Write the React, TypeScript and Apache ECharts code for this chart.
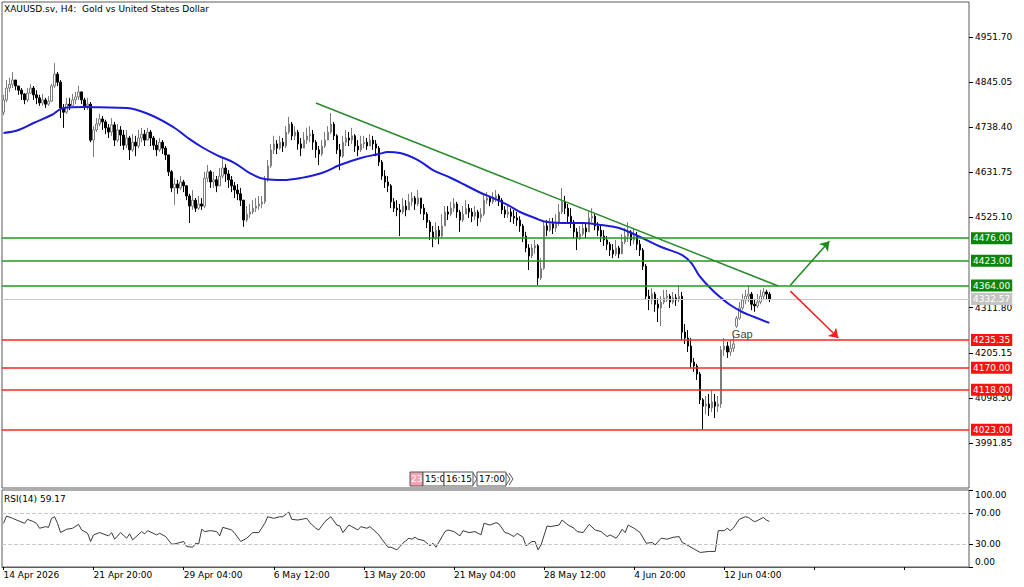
import React, { useEffect, useRef } from "react";
import * as echarts from "echarts";

const FONT = "DejaVu Sans";
const N_SLOTS = 322;
const LABEL_STEP = 30;

const dateLabels = ["14 Apr 2026", "21 Apr 20:00", "29 Apr 04:00", "6 May 12:00", "13 May 20:00", "21 May 04:00", "28 May 12:00", "4 Jun 20:00", "12 Jun 04:00"];

const firstOpen = 4774;
const gapOpens: Record<number, number> = { 244: 4268 };

const closes = [
  4803, 4831, 4840, 4850, 4836, 4826, 4817, 4803, 4819, 4831,
  4815, 4808, 4796, 4803, 4793, 4800, 4836, 4864, 4845, 4784,
  4774, 4793, 4789, 4803, 4810, 4822, 4803, 4789, 4793, 4708,
  4732, 4746, 4758, 4751, 4737, 4727, 4744, 4708, 4732, 4720,
  4696, 4713, 4685, 4703, 4694, 4713, 4722, 4708, 4727, 4713,
  4696, 4685, 4703, 4689, 4673, 4633, 4595, 4604, 4595, 4609,
  4600, 4576, 4552, 4566, 4547, 4557, 4552, 4618, 4633, 4609,
  4614, 4600, 4623, 4642, 4628, 4614, 4600, 4590, 4581, 4566,
  4519, 4533, 4538, 4547, 4552, 4557, 4562, 4614, 4647, 4685,
  4699, 4689, 4703, 4694, 4727, 4746, 4718, 4727, 4699, 4689,
  4708, 4718, 4722, 4703, 4685, 4675, 4694, 4708, 4727, 4746,
  4718, 4685, 4670, 4703, 4713, 4708, 4718, 4694, 4685, 4699,
  4703, 4694, 4708, 4699, 4689, 4656, 4623, 4609, 4600, 4562,
  4547, 4543, 4538, 4552, 4543, 4562, 4571, 4557, 4571, 4547,
  4533, 4514, 4491, 4476, 4495, 4481, 4505, 4538, 4533, 4547,
  4557, 4538, 4519, 4533, 4547, 4538, 4528, 4538, 4524, 4533,
  4566, 4571, 4562, 4571, 4576, 4566, 4543, 4533, 4538, 4528,
  4524, 4519, 4505, 4481, 4453, 4434, 4453, 4458, 4382, 4405,
  4505, 4495, 4510, 4500, 4514, 4538, 4562, 4547, 4528, 4514,
  4491, 4476, 4486, 4500, 4491, 4524, 4528, 4505, 4495, 4481,
  4472, 4462, 4448, 4439, 4453, 4439, 4467, 4481, 4491, 4472,
  4481, 4462, 4448, 4410, 4339, 4330, 4344, 4320, 4311, 4325,
  4335, 4339, 4325, 4335, 4330, 4339, 4254, 4240, 4221, 4183,
  4174, 4155, 4094, 4079, 4084, 4075, 4089, 4079, 4084, 4212,
  4221, 4207, 4216, 4226, 4287, 4311, 4330, 4339, 4344, 4320, 4316, 4325, 4339, 4349, 4344, 4332.57,
];

const highs = [
  4815, 4850, 4855, 4869, 4850, 4836, 4831, 4819, 4831, 4840,
  4836, 4826, 4815, 4817, 4808, 4812, 4841, 4890, 4869, 4850,
  4793, 4808, 4808, 4817, 4822, 4836, 4822, 4808, 4808, 4798,
  4741, 4760, 4770, 4765, 4756, 4746, 4760, 4751, 4746, 4741,
  4732, 4732, 4718, 4722, 4718, 4732, 4737, 4732, 4737, 4732,
  4718, 4708, 4713, 4708, 4694, 4673, 4637, 4618, 4614, 4623,
  4614, 4600, 4581, 4590, 4571, 4576, 4571, 4633, 4649, 4637,
  4633, 4623, 4642, 4666, 4651, 4637, 4623, 4609, 4604, 4595,
  4566, 4552, 4557, 4566, 4571, 4576, 4576, 4623, 4661, 4699,
  4718, 4708, 4718, 4713, 4741, 4763, 4751, 4741, 4732, 4713,
  4727, 4737, 4741, 4732, 4708, 4694, 4708, 4727, 4741, 4772,
  4751, 4722, 4699, 4718, 4732, 4727, 4737, 4722, 4708, 4718,
  4718, 4713, 4722, 4718, 4708, 4694, 4661, 4637, 4623, 4604,
  4571, 4566, 4557, 4571, 4566, 4581, 4585, 4576, 4590, 4571,
  4557, 4538, 4519, 4505, 4514, 4505, 4533, 4552, 4552, 4562,
  4571, 4562, 4543, 4552, 4566, 4557, 4547, 4552, 4543, 4547,
  4581, 4585, 4576, 4585, 4590, 4581, 4571, 4552, 4552, 4547,
  4543, 4538, 4528, 4510, 4491, 4462, 4462, 4472, 4462, 4429,
  4514, 4519, 4524, 4524, 4533, 4557, 4595, 4576, 4557, 4547,
  4519, 4500, 4505, 4514, 4510, 4538, 4547, 4533, 4514, 4505,
  4495, 4481, 4467, 4462, 4472, 4458, 4486, 4500, 4514, 4495,
  4500, 4491, 4472, 4453, 4415, 4354, 4358, 4349, 4334, 4339,
  4354, 4354, 4344, 4349, 4344, 4365, 4349, 4273, 4259, 4240,
  4193, 4179, 4160, 4098, 4103, 4108, 4117, 4108, 4103, 4221,
  4240, 4231, 4235, 4245, 4292, 4325, 4344, 4354, 4365, 4349, 4330, 4344, 4354, 4358, 4354, 4349,
];

const lows = [
  4767, 4798, 4822, 4831, 4826, 4815, 4803, 4793, 4798, 4817,
  4803, 4793, 4789, 4789, 4784, 4789, 4798, 4831, 4836, 4760,
  4737, 4770, 4779, 4789, 4793, 4803, 4793, 4779, 4779, 4703,
  4668, 4727, 4741, 4732, 4722, 4713, 4718, 4694, 4703, 4694,
  4685, 4689, 4661, 4680, 4670, 4689, 4703, 4694, 4708, 4694,
  4685, 4670, 4680, 4675, 4661, 4623, 4585, 4555, 4581, 4590,
  4585, 4566, 4512, 4543, 4538, 4543, 4543, 4547, 4609, 4595,
  4595, 4585, 4600, 4618, 4609, 4595, 4585, 4571, 4566, 4552,
  4503, 4514, 4524, 4533, 4538, 4543, 4547, 4557, 4609, 4642,
  4675, 4675, 4685, 4680, 4689, 4722, 4708, 4708, 4685, 4670,
  4689, 4699, 4703, 4685, 4666, 4649, 4670, 4689, 4708, 4722,
  4708, 4675, 4637, 4666, 4694, 4694, 4699, 4680, 4670, 4680,
  4689, 4685, 4694, 4685, 4670, 4647, 4614, 4595, 4585, 4547,
  4538, 4528, 4481, 4533, 4528, 4543, 4552, 4543, 4552, 4533,
  4519, 4500, 4472, 4455, 4472, 4462, 4476, 4514, 4519, 4528,
  4538, 4524, 4491, 4514, 4533, 4524, 4514, 4519, 4505, 4514,
  4528, 4557, 4552, 4557, 4562, 4552, 4533, 4524, 4524, 4514,
  4510, 4505, 4491, 4467, 4443, 4401, 4429, 4439, 4365, 4377,
  4401, 4481, 4491, 4486, 4491, 4505, 4533, 4533, 4514, 4500,
  4476, 4448, 4472, 4481, 4476, 4491, 4514, 4495, 4481, 4467,
  4458, 4448, 4434, 4429, 4434, 4429, 4443, 4462, 4467, 4458,
  4462, 4448, 4434, 4401, 4330, 4306, 4320, 4302, 4278, 4268,
  4320, 4325, 4311, 4320, 4316, 4325, 4235, 4226, 4207, 4169,
  4160, 4141, 4084, 4024, 4060, 4056, 4065, 4051, 4065, 4075,
  4198, 4193, 4198, 4207, 4264, 4283, 4306, 4320, 4325, 4306, 4302, 4311, 4320, 4330, 4330, 4325,
];

const maIdx = [0, 5, 10, 16, 20, 27, 32, 41, 49, 57, 61, 66, 71, 77, 82, 87, 93, 99, 106, 112, 119, 125, 128, 132, 138, 143, 149, 155, 159, 163, 168, 172, 177, 181, 188, 193, 199, 205, 212, 219, 226, 229, 232, 236, 239, 242, 246, 250, 255];
const maVal = [4724.8, 4731.9, 4748.4, 4767.3, 4783.9, 4786.2, 4785.5, 4783.9, 4767.3, 4736.6, 4715.3, 4691.7, 4672.7, 4653.8, 4630.2, 4616.0, 4613.6, 4618.4, 4630.2, 4649.1, 4665.7, 4675.1, 4679.8, 4677.5, 4660.9, 4637.3, 4618.4, 4597.1, 4582.9, 4571.1, 4554.5, 4538.0, 4523.8, 4514.3, 4512.0, 4512.0, 4507.2, 4500.2, 4478.9, 4455.2, 4436.3, 4417.5, 4384.4, 4353.6, 4334.7, 4318.1, 4301.6, 4289.7, 4276.0];

const trendIdx = [104, 258];
const trendVal = [4795.7, 4363.0];

const greenLevels = [4476, 4423, 4364];
const redLevels = [4235.35, 4170, 4118, 4023];
const lastPrice = 4332.57;

const upArrowIdx = [262, 275];
const upArrowVal = [4365, 4469];
const downArrowIdx = [262, 278];
const downArrowVal = [4351, 4240];

const gapIdx = 246;
const gapPrice = 4250;
const gapText = "Gap";

const yTicks = [3991.85, 4098.5, 4205.15, 4311.8, 4525.1, 4631.75, 4738.4, 4845.05, 4951.7];
const yMin = 3885.5;
const yMax = 5034.5;

const rsiIdx = [0, 1, 3, 7, 8, 10, 11, 12, 14, 15, 16, 17, 18, 19, 21, 23, 25, 26, 28, 29, 30, 32, 35, 36, 37, 39, 41, 42, 43, 46, 47, 48, 51, 52, 54, 56, 57, 60, 61, 63, 64, 65, 66, 67, 69, 71, 72, 73, 76, 77, 79, 81, 83, 85, 87, 88, 90, 92, 93, 95, 96, 98, 101, 102, 104, 105, 107, 109, 111, 112, 113, 115, 116, 118, 119, 121, 122, 123, 125, 126, 128, 129, 131, 133, 135, 136, 137, 138, 140, 142, 143, 144, 147, 148, 150, 152, 153, 155, 157, 159, 160, 162, 164, 165, 167, 168, 170, 171, 173, 174, 176, 177, 178, 179, 181, 182, 185, 186, 188, 190, 191, 193, 195, 197, 199, 201, 202, 204, 205, 206, 207, 208, 210, 212, 214, 216, 217, 219, 221, 223, 225, 226, 227, 230, 232, 235, 237, 238, 240, 241, 242, 243, 245, 247, 248, 250, 251, 253, 254, 255];
const rsiVal = [56.7, 66.2, 63.2, 56.7, 61.9, 58.9, 56.7, 50.3, 52.4, 51.5, 63.2, 65.3, 56.7, 44.7, 49, 50.3, 55.4, 48.1, 43.8, 33.1, 41.7, 44.7, 40.4, 44.7, 36.1, 44.7, 37.4, 43, 35.2, 46, 43, 47.2, 41.7, 43.8, 39.5, 29.6, 30, 33.1, 26.6, 25.7, 30.9, 30, 49, 46, 47.2, 46, 40.4, 51.5, 48.1, 43.8, 33.1, 37.4, 44.7, 44.7, 56.7, 65.3, 63.2, 65.3, 65.3, 71.3, 61.9, 61, 63.2, 57.6, 50.3, 48.1, 58.9, 65.3, 54.5, 53.3, 44.7, 54.5, 52.4, 48.1, 52.4, 50.3, 52.4, 49, 41.7, 36.1, 25.7, 25.7, 22.3, 30.9, 37.4, 36.1, 38.6, 36.1, 34.3, 27.5, 30.9, 25.7, 46, 48.1, 46, 40.4, 47.2, 44.7, 46, 41.7, 56.7, 54.5, 57.6, 55.8, 44.7, 43.8, 39.5, 43.8, 38.6, 27.5, 33.1, 33.1, 22.3, 28.7, 53.3, 52.4, 54.5, 61, 54.5, 50.3, 46, 44.7, 55.4, 48.1, 46, 39.5, 41.7, 37.4, 42.5, 49, 44.7, 54.5, 50.3, 44.7, 30.9, 31.8, 28.7, 37.4, 36.1, 38.6, 39.5, 31.8, 30, 23.2, 18.9, 20.2, 20.2, 47.2, 47.2, 50.3, 47.2, 50.3, 61.9, 65.3, 64.4, 58.9, 60.1, 64.4, 61, 59.17];
const rsiTicks = [0, 30, 70, 100];
const rsiLevels = [30, 70];
const rsiTitle = "RSI(14) 59.17";
const chartTitle = "XAUUSD.sv, H4:  Gold vs United States Dollar";

const GREEN_LINE = "#1f9a1f";
const GREEN_BOX = "#0b860b";
const RED_LINE = "#ff2424";
const RED_BOX = "#ff1010";

function levelItem(v: number, lineColor: string, boxColor: string) {
  return {
    yAxis: v,
    lineStyle: { color: lineColor, width: 1.5, type: "solid" },
    label: {
      show: true,
      position: "end",
      distance: 2,
      formatter: () => v.toFixed(2),
      backgroundColor: boxColor,
      color: "#ffffff",
      padding: [2, 2, 1, 2],
      fontSize: 9,
      fontFamily: FONT,
    },
  };
}

function buildOption() {
  const categories = Array.from({ length: N_SLOTS }, (_, i) => String(i));
  const opens = closes.map((c, i) =>
    gapOpens[i] !== undefined ? gapOpens[i] : i === 0 ? firstOpen : closes[i - 1]
  );
  const candleData = closes.map((c, i) => {
    const o = opens[i];
    return [o, c, Math.min(lows[i], o, c), Math.max(highs[i], o, c)];
  });
  const maData = maIdx.map((i, k) => [i, maVal[k]]);
  const trendData = trendIdx.map((i, k) => [i, trendVal[k]]);
  const rsiData = rsiIdx.map((i, k) => [i, rsiVal[k]]);

  const textStyle = { fontFamily: FONT, fontSize: 9, color: "#000" };

  const levelData: any[] = [
    ...greenLevels.map((v) => levelItem(v, GREEN_LINE, GREEN_BOX)),
    ...redLevels.map((v) => levelItem(v, RED_LINE, RED_BOX)),
    {
      yAxis: lastPrice,
      lineStyle: { color: "#c8c8c8", width: 1, type: "solid" },
      label: {
        show: true,
        position: "end",
        distance: 2,
        formatter: () => lastPrice.toFixed(2),
        backgroundColor: "#c4c4c4",
        color: "#ffffff",
        padding: [2, 2, 1, 2],
        fontSize: 9,
        fontFamily: FONT,
      },
    },
  ];

  const widget: any[] = [
    { type: "rect", shape: { x: 410, y: 472, width: 13, height: 14 }, style: { fill: "#f5a3b3", stroke: "#555", lineWidth: 1 } },
    { type: "text", x: 411, y: 479, style: { text: "23", fill: "#ffffff", font: `9px "${FONT}"`, verticalAlign: "middle" } },
    { type: "rect", shape: { x: 423, y: 472, width: 21, height: 14 }, style: { fill: "#fff", stroke: "#555", lineWidth: 1 } },
    { type: "text", x: 425, y: 479, style: { text: "15:0", fill: "#000", font: `9px "${FONT}"`, verticalAlign: "middle" } },
    { type: "rect", shape: { x: 444, y: 472, width: 29, height: 14 }, style: { fill: "#fff", stroke: "#555", lineWidth: 1 } },
    { type: "text", x: 446, y: 479, style: { text: "16:15", fill: "#000", font: `9px "${FONT}"`, verticalAlign: "middle" } },
    { type: "polyline", shape: { points: [[473, 473], [477, 479], [473, 485]] }, style: { stroke: "#555", fill: null, lineWidth: 1 } },
    { type: "rect", shape: { x: 477, y: 472, width: 29, height: 14 }, style: { fill: "#fff", stroke: "#555", lineWidth: 1 } },
    { type: "text", x: 479, y: 479, style: { text: "17:00", fill: "#000", font: `9px "${FONT}"`, verticalAlign: "middle" } },
    { type: "polyline", shape: { points: [[506, 473], [510, 479], [506, 485]] }, style: { stroke: "#555", fill: null, lineWidth: 1 } },
    { type: "polyline", shape: { points: [[509, 473], [513, 479], [509, 485]] }, style: { stroke: "#555", fill: null, lineWidth: 1 } },
  ];

  return {
    animation: false,
    backgroundColor: "#ffffff",
    textStyle: { fontFamily: FONT },
    grid: [
      { left: 2, top: 2, width: 967, height: 486, show: true, borderColor: "#5a5a5a", borderWidth: 1, backgroundColor: "#fff" },
      { left: 2, top: 490, width: 967, height: 77, show: true, borderColor: "#5a5a5a", borderWidth: 1, backgroundColor: "#fff" },
    ],
    xAxis: [
      {
        type: "category",
        gridIndex: 0,
        data: categories,
        boundaryGap: true,
        axisLine: { show: false },
        axisTick: { show: false },
        axisLabel: { show: false },
        splitLine: { show: false },
      },
      {
        type: "category",
        gridIndex: 1,
        data: categories,
        boundaryGap: true,
        axisLine: { show: true, lineStyle: { color: "#5a5a5a" } },
        axisTick: { show: true, alignWithLabel: true, length: 3, interval: (i: number) => i % LABEL_STEP === 0, lineStyle: { color: "#000" } },
        axisLabel: {
          ...textStyle,
          interval: (i: number) => i % LABEL_STEP === 0,
          formatter: (_v: string, i: number) => dateLabels[i / LABEL_STEP] ?? "",
          align: "left",
          margin: 3,
        },
        splitLine: { show: false },
      },
    ],
    yAxis: [
      {
        type: "value",
        gridIndex: 0,
        position: "right",
        min: yMin,
        max: yMax,
        scale: true,
        splitLine: { show: false },
        axisLine: { show: false },
        axisTick: { show: true, length: 4, customValues: yTicks, lineStyle: { color: "#000" } },
        axisLabel: { ...textStyle, customValues: yTicks, formatter: (v: number) => v.toFixed(2), margin: 6 },
      },
      {
        type: "value",
        gridIndex: 1,
        position: "right",
        min: 0,
        max: 100,
        splitLine: { show: false },
        axisLine: { show: false },
        axisTick: { show: true, length: 4, customValues: rsiTicks, lineStyle: { color: "#000" } },
        axisLabel: {
          ...textStyle,
          customValues: rsiTicks,
          margin: 6,
          formatter: (v: number) => (v === 100 ? "{t|100.00}" : v === 0 ? "{b|0.00}" : v.toFixed(2)),
          rich: {
            t: { padding: [10, 0, 0, 0], fontSize: 9, fontFamily: FONT, color: "#000" },
            b: { padding: [0, 0, 10, 0], fontSize: 9, fontFamily: FONT, color: "#000" },
          },
        },
      },
    ],
    graphic: [
      { type: "text", left: 4, top: 4, style: { text: chartTitle, fill: "#000", font: `9px "${FONT}"` } },
      { type: "text", left: 4, top: 494, style: { text: rsiTitle, fill: "#000", font: `9px "${FONT}"` } },
      ...widget,
    ],
    series: [
      {
        type: "candlestick",
        xAxisIndex: 0,
        yAxisIndex: 0,
        data: candleData,
        barWidth: 2,
        itemStyle: {
          color: "#ffffff",
          color0: "#000000",
          borderColor: "#7c7c7c",
          borderColor0: "#000000",
          borderWidth: 1,
        },
        markLine: {
          silent: true,
          symbol: "none",
          animation: false,
          data: levelData,
        },
        markPoint: {
          silent: true,
          symbol: "circle",
          symbolSize: 1,
          itemStyle: { color: "rgba(0,0,0,0)" },
          label: { show: true, formatter: gapText, color: "#444", fontSize: 11, fontFamily: "Liberation Sans", position: "inside" },
          data: [{ coord: [gapIdx, gapPrice] }],
        },
        z: 3,
      },
      {
        type: "line",
        xAxisIndex: 0,
        yAxisIndex: 0,
        data: maData,
        smooth: 0.4,
        showSymbol: false,
        lineStyle: { color: "#1c1cd6", width: 2 },
        z: 4,
      },
      {
        type: "line",
        xAxisIndex: 0,
        yAxisIndex: 0,
        data: trendData,
        showSymbol: false,
        lineStyle: { color: "#2b8a2b", width: 1.5 },
        z: 4,
        markLine: {
          silent: true,
          symbol: ["none", "arrow"],
          symbolSize: 9,
          label: { show: false },
          data: [
            [
              { coord: [upArrowIdx[0], upArrowVal[0]], lineStyle: { color: "#1a8c1a", width: 1.5, type: "solid" } },
              { coord: [upArrowIdx[1], upArrowVal[1]] },
            ],
            [
              { coord: [downArrowIdx[0], downArrowVal[0]], lineStyle: { color: "#ee2020", width: 1.5, type: "solid" } },
              { coord: [downArrowIdx[1], downArrowVal[1]] },
            ],
          ],
        },
      },
      {
        type: "line",
        xAxisIndex: 1,
        yAxisIndex: 1,
        data: rsiData,
        showSymbol: false,
        lineStyle: { color: "#3a3a3a", width: 1 },
        markLine: {
          silent: true,
          symbol: "none",
          label: { show: false },
          lineStyle: { color: "#c8c8c8", type: "dashed", width: 1 },
          data: rsiLevels.map((v) => ({ yAxis: v })),
        },
      },
    ],
  };
}

export default function App() {
  const ref = useRef<HTMLDivElement>(null);
  useEffect(() => {
    if (!ref.current) return;
    const chart = echarts.init(ref.current, null, { renderer: "svg" });
    chart.setOption(buildOption() as any);
    return () => chart.dispose();
  }, []);
  return <div ref={ref} style={{ position: "absolute", left: 0, top: 0, width: 1024, height: 587 }} />;
}
